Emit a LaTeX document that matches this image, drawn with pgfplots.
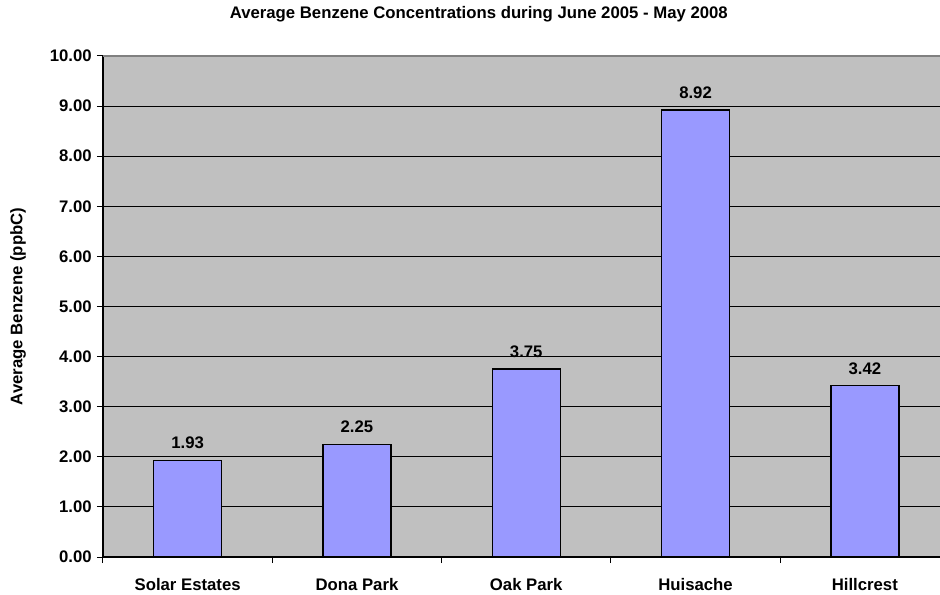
\documentclass[border=0pt]{standalone}
\usepackage{pgfplots}
\pgfplotsset{compat=1.18}
\usepackage{fontspec}
\setmainfont{Liberation Sans}
\definecolor{plotbg}{HTML}{C0C0C0}
\definecolor{barfill}{HTML}{9999FF}
\definecolor{topline}{HTML}{808080}
\newcommand{\chartfont}{\bfseries\fontsize{12.6}{14}\selectfont}
\begin{document}
\begin{tikzpicture}
\path[use as bounding box] (-77.25bp,-28.5bp) rectangle (627.75bp,417.75bp);
\begin{axis}[
  at={(0,0)}, anchor=south west,
  scale only axis,
  width=627.75bp, height=375.75bp,
  xmin=-0.5, xmax=4.444,
  ymin=0, ymax=10,
  axis lines*=left,
  axis line style={black, line width=0.8bp},
  axis background/.style={fill=plotbg},
  ytick={0,1,...,10},
  ymajorgrids,
  grid style={black, line width=0.75bp},
  tick align=outside,
  major tick length=4.5bp,
  tick style={black, line width=0.75bp},
  xtick={0,1,2,3,4},
  xticklabels={Solar Estates, Dona Park, Oak Park, Huisache, Hillcrest},
  x tick style={draw=none},
  minor xtick={-0.5,0.5,1.5,2.5,3.5},
  minor x tick style={draw=black, line width=0.75bp},
  minor tick length=4.5bp,
  xticklabel style={font=\chartfont, anchor=north, yshift=-8bp},
  yticklabel style={font=\chartfont, xshift=-0.5bp},
  /pgf/number format/fixed,
  /pgf/number format/fixed zerofill,
  /pgf/number format/precision=2,
  /pgf/number format/assume math mode=true,
  ylabel={Average Benzene (ppbC)},
  ylabel style={font=\chartfont, at={(axis description cs:0,0.5)}, anchor=center, yshift=63.75bp},
  title={Average Benzene Concentrations during June 2005 - May 2008},
  title style={font=\chartfont, at={(axis description cs:0.449,1)}, anchor=center, yshift=25bp},
  ybar, bar width=51bp,
  nodes near coords,
  nodes near coords style={font=\chartfont, yshift=4.5bp},
  clip=false,
]
\addplot[fill=barfill, draw=black, line width=1.1bp] coordinates {(0,1.93) (1,2.25) (2,3.75) (3,8.92) (4,3.42)};
\draw[topline, line width=1bp] (rel axis cs:0,1) -- (rel axis cs:1,1);
\end{axis}
\end{tikzpicture}
\end{document}
